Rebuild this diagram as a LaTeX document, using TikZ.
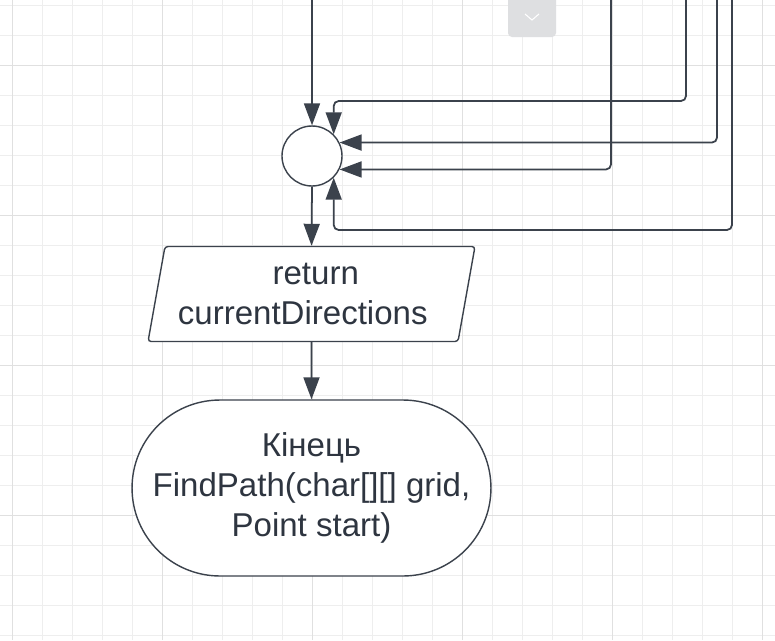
\documentclass[tikz,border=0pt]{standalone}
\usepackage{fontspec}
\setmainfont{Liberation Sans}
\usetikzlibrary{positioning,arrows.meta,shapes.geometric}
\definecolor{lineGray}{HTML}{3B424C}
\definecolor{textGray}{HTML}{2E3540}
\definecolor{gridMinorGray}{HTML}{EEEEEE}
\definecolor{gridMajorGray}{HTML}{E0E0E0}
\definecolor{btnGray}{HTML}{DEDFE1}
\tikzset{
  flowArrow/.style={draw=lineGray, line width=1pt, rounded corners=0.1cm, -{Triangle[length=0.44cm,width=0.32cm]}},
  joinNode/.style={circle, draw=lineGray, line width=0.8pt, fill=white, minimum size=1.2cm, inner sep=0pt},
  ioNode/.style={trapezium, trapezium left angle=77, trapezium right angle=103, trapezium stretches body,
    draw=lineGray, line width=0.8pt, fill=white, rounded corners=0.06cm, minimum width=6.54cm, minimum height=1.9cm,
    align=center, text=textGray},
  endNode/.style={rectangle, rounded corners=1.76cm, draw=lineGray, line width=0.8pt, fill=white,
    minimum width=7.18cm, minimum height=3.52cm, align=center, text=textGray},
  gridMinor/.style={draw=gridMinorGray, line width=0.5pt},
  gridMajor/.style={draw=gridMajorGray, line width=0.5pt}
}

\begin{document}
\begin{tikzpicture}[x=0.02cm, y=-0.02cm, font={\fontsize{18.8}{22.8}\selectfont}]

    \clip (0,0) rectangle (775,640);
    \fill[white] (0,0) rectangle (775,640);

    % grid
    \foreach \x in {12,42,...,762} \draw[gridMinor] (\x,0) -- (\x,640);
    \foreach \y in {5,35,...,635} \draw[gridMinor] (0,\y) -- (775,\y);
    \foreach \x in {12,162,...,762} \draw[gridMajor] (\x,0) -- (\x,640);
    \foreach \y in {65,215,...,515} \draw[gridMajor] (0,\y) -- (775,\y);

    % collapse button
    \fill[btnGray, rounded corners=0.08cm] (508,-10) rectangle (556,37);
    \draw[white, line width=0.6pt] (525,14) -- (532,20) -- (539,14);

    % incoming branches
    \coordinate (top) at (312,0);
    \coordinate (in1) at (686,0);
    \coordinate (in2) at (717,0);
    \coordinate (in3) at (611,0);
    \coordinate (in4) at (732,0);

    \node[joinNode] (join) at (312,156) {};
    \node[ioNode] (ret) at (311.5,294) {\hspace*{0.17cm}return\\currentDirections\hspace*{0.35cm}};
    \node[endNode] (stop) at (311.5,488) {Кінець\\FindPath(char[][] grid,\\Point start)};

    \draw[flowArrow] (top) -- (join.north);
    \draw[flowArrow] (in1) -- ++(0,101) -| (join.45);
    \draw[flowArrow] (in2) |- (join.26);
    \draw[flowArrow] (in3) |- (join.-26);
    \draw[flowArrow] (in4) -- ++(0,230) -| (join.-45);

    \draw[flowArrow] (join.south) -- (ret.north);
    \draw[flowArrow] (ret.south) -- (stop.north);

\end{tikzpicture}
\end{document}
